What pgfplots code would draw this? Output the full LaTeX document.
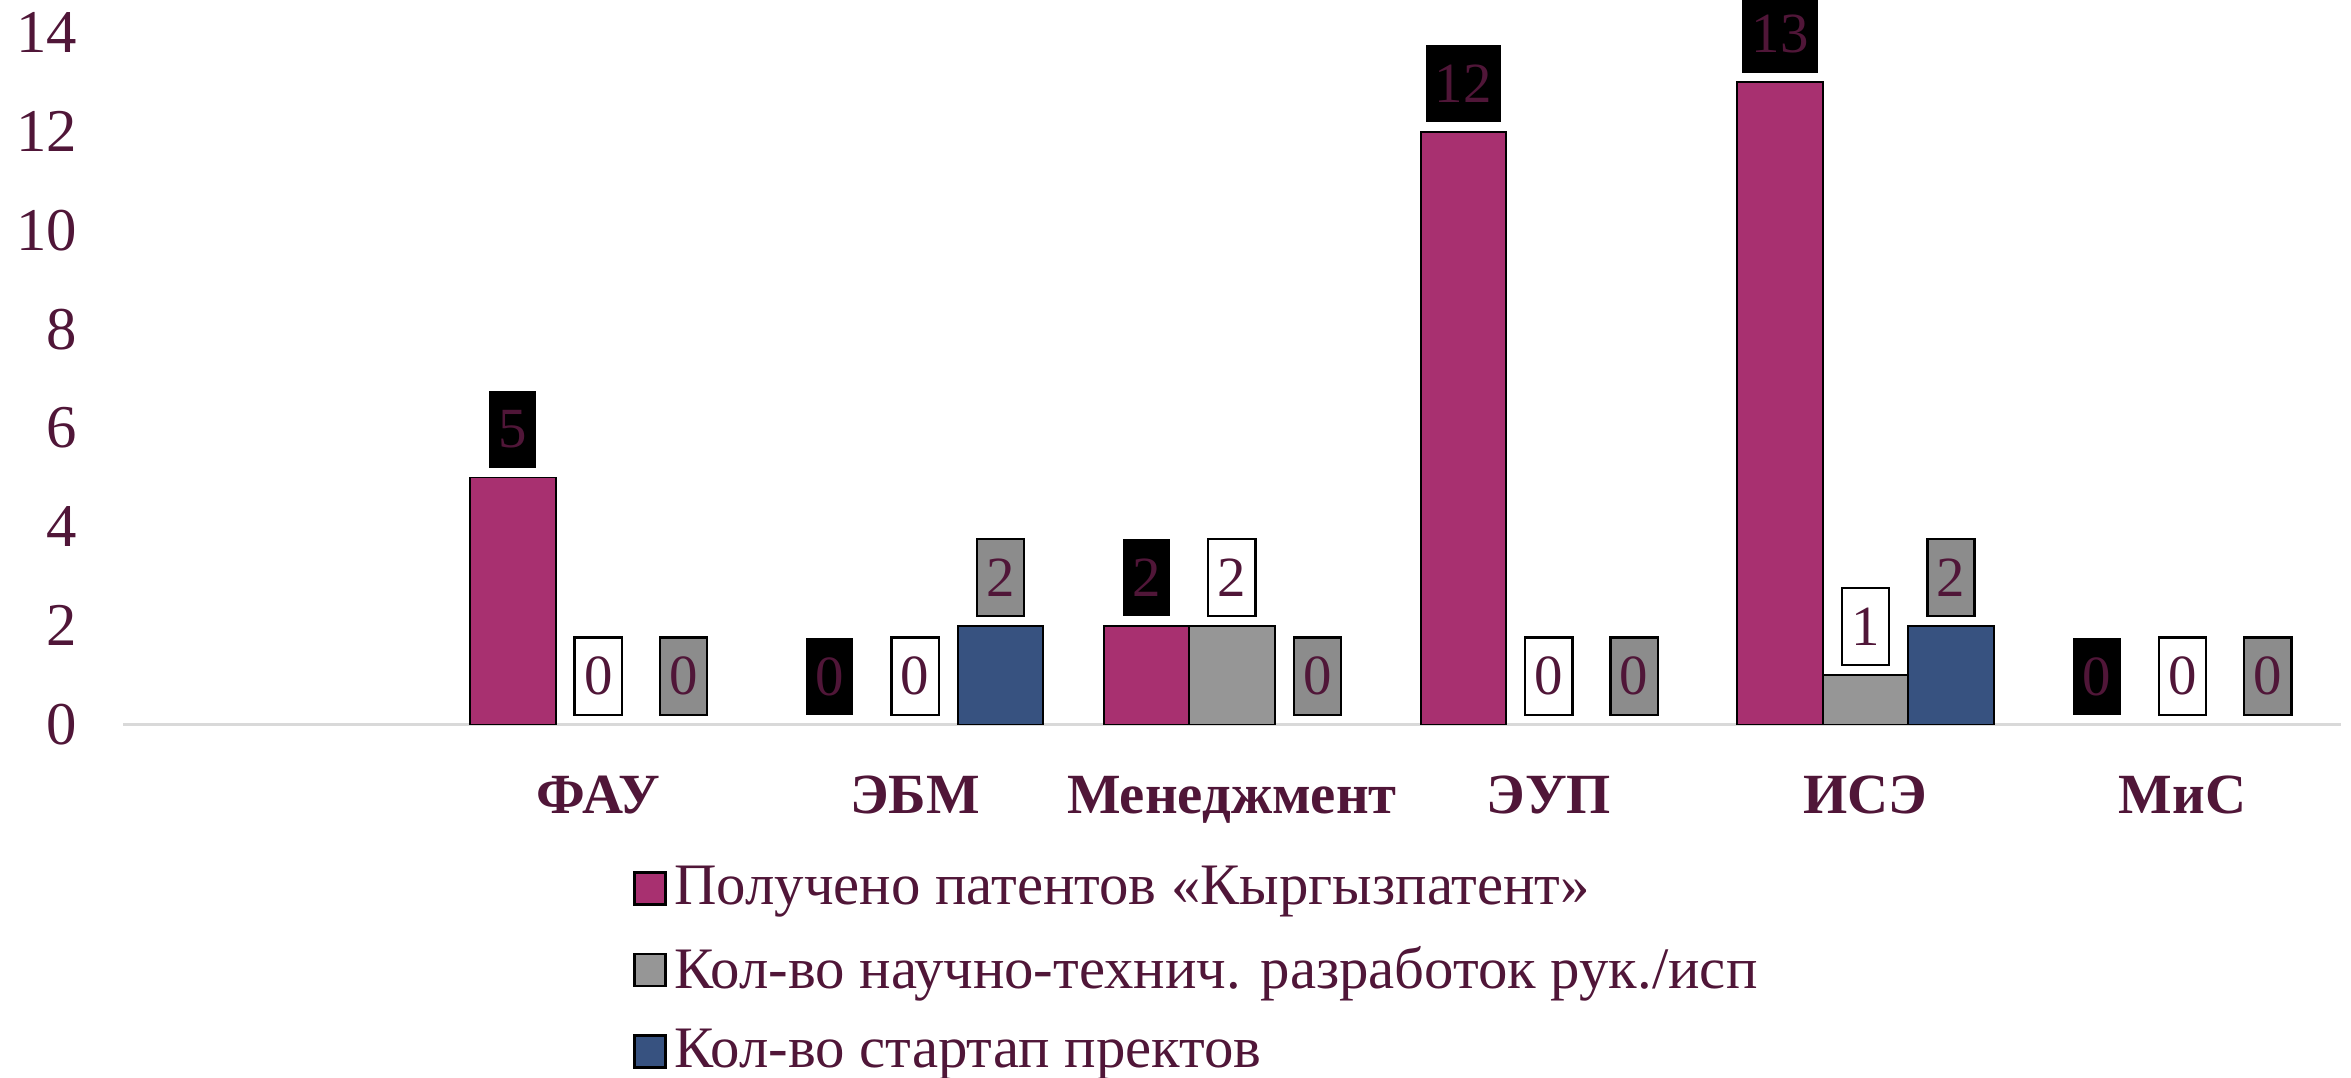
\documentclass[border=0pt]{standalone}
\usepackage{fontspec}
\setmainfont{Liberation Serif}
\usepackage{pgfplots}
\pgfplotsset{compat=1.18}
\usepackage{pgfplotstable}

\definecolor{txt}{RGB}{80,22,56}
\definecolor{c1}{RGB}{168,48,112}
\definecolor{c2}{RGB}{150,150,150}
\definecolor{c3}{RGB}{55,82,128}
\definecolor{chk}{RGB}{140,140,140}

\pgfplotstableread{
x a b c
1 5 0 0
2 0 0 2
3 2 2 0
4 12 0 0
5 13 1 2
6 0 0 0
}\data

\pgfplotsset{
  lbl/.style={draw=none, fill=none, forget plot, nodes near coords,
    every node near coord/.append style={anchor=south, yshift=2.2pt,
      font=\fontsize{14.5}{14.5}\selectfont, text=txt, inner xsep=2.4pt,
      inner ysep=0pt, minimum height=19.7pt, #1}},
  nz/.style={y filter/.expression={y==0 ? nan : y}}
}

\begin{document}
\begin{tikzpicture}
\begin{axis}[
  scale only axis, width=566pt, height=176.5pt,
  ybar=0pt, bar width=21.8pt,
  xmin=-0.5, xmax=6.5, ymin=0, ymax=14,
  xtick={1,...,6},
  xticklabels={ФАУ,ЭБМ,Менеджмент,ЭУП,ИСЭ,МиС},
  ytick={0,2,...,14},
  /pgf/number format/assume math mode=true,
  separate axis lines,
  axis x line=bottom, axis y line=left,
  axis line style={-},
  y axis line style={draw=none},
  x axis line style={draw=black!15, line width=0.8pt},
  tick style={draw=none},
  yticklabel style={font=\fontsize{15.5}{15.5}\selectfont, text=txt, xshift=-6pt},
  xticklabel style={font=\fontsize{14.5}{14.5}\selectfont\bfseries, text=txt, yshift=-7.5pt},
  clip=false,
  legend cell align=left,
  legend style={at={(rel axis cs:0.2297,0)}, anchor=north west, yshift=-34pt,
    draw=none, fill=none, row sep=5pt, font=\fontsize{15}{15}\selectfont, text=txt,
    inner sep=0pt},
  legend image code/.code={\draw[#1, draw=black, line width=0.7pt] (0pt,-4.1pt) rectangle (7.8pt,4.1pt);},
]
\addplot[bar shift=-21.8pt, fill=c1, draw=black, line width=0.5pt, nz] table[x=x,y=a]{\data};
\addplot[bar shift=0pt, fill=c2, draw=black, line width=0.5pt, nz] table[x=x,y=b]{\data};
\addplot[bar shift=21.8pt, fill=c3, draw=black, line width=0.5pt, nz] table[x=x,y=c]{\data};
\legend{Получено патентов «Кыргызпатент», Кол-во научно-технич. разработок рук./исп, Кол-во стартап пректов}
\addplot[bar shift=-21.8pt, lbl={fill=black}] table[x=x,y=a]{\data};
\addplot[bar shift=0pt, lbl={fill=white, draw=black, line width=0.6pt}] table[x=x,y=b]{\data};
\addplot[bar shift=21.8pt, lbl={fill=chk, draw=black, line width=0.6pt}] table[x=x,y=c]{\data};
\coordinate (o) at (rel axis cs:0,0);
\end{axis}
\pgfresetboundingbox
\path[use as bounding box] (o) ++(-31.4pt,-90pt) rectangle ++(600pt,274.9pt);
\end{tikzpicture}
\end{document}
